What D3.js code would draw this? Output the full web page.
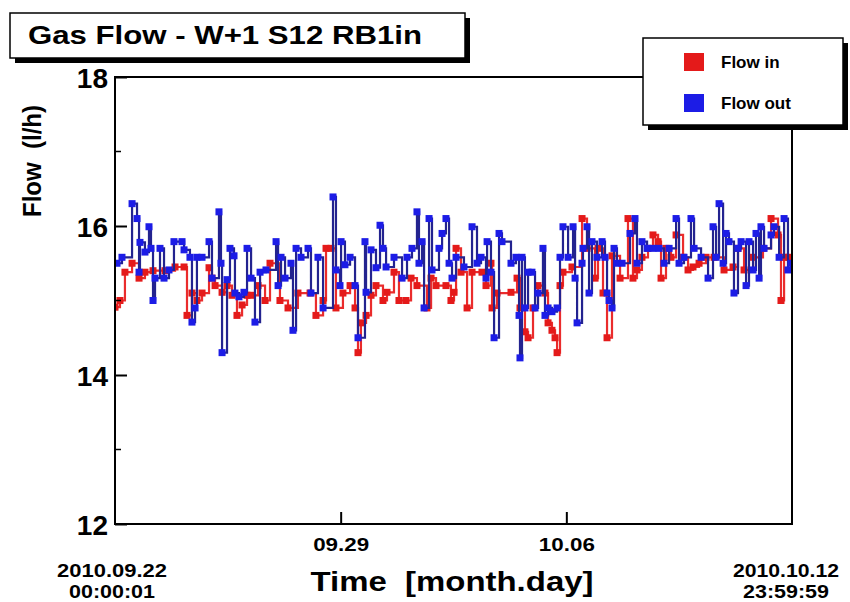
<!DOCTYPE html>
<html>
<head>
<meta charset="utf-8">
<script src="https://cdn.jsdelivr.net/npm/d3@7"></script>
<style>
  html, body { margin: 0; padding: 0; background: #ffffff; }
  svg { display: block; }
  text { font-family: "Liberation Sans", Arial, Helvetica, sans-serif; font-weight: bold; fill: #000; }
</style>
</head>
<body>
<svg id="chart" width="850" height="602"></svg>
<script>
// ---------------- DATA ----------------
const chartTitle = "Gas Flow - W+1 S12 RB1in";
const seriesNames = ["Flow in", "Flow out"];
const startTime = "2010-09-22T00:00:01";
const endTime = "2010-10-12T23:59:59";
const startLabel = ["2010.09.22", "00:00:01"];
const endLabel = ["2010.10.12", "23:59:59"];
const xTickDates = ["2010-09-29T00:00:00", "2010-10-06T00:00:00"];
const xTickLabels = ["09.29", "10.06"];
const yTicks = [12, 14, 16, 18];
const yMinorTicks = [13, 15, 17];
const yDomain = [12, 18];

// Flow in (red): hours after start, value (l/h)
const flowInHours = [0, 3.7, 7.4, 12.7, 17.9, 22.3, 28.3, 37.2, 44.7, 51.4, 53.6, 57.3, 61.0, 64.8, 70.0, 72.2, 74.5, 79.7, 83.4, 87.1, 90.8, 94.6, 98.3, 101.3, 106.5, 111.7, 115.4, 122.8, 128.8, 136.2, 145.2, 149.6, 154.9, 157.1, 160.8, 164.5, 169.7, 175.0, 178.7, 180.9, 183.1, 186.9, 190.6, 194.3, 199.5, 202.5, 207.7, 211.4, 216.6, 220.4, 224.8, 232.3, 235.3, 239.0, 246.4, 250.1, 252.4, 253.9, 257.6, 262.1, 265.8, 273.2, 276.2, 279.9, 280.7, 284.4, 294.8, 299.3, 301.5, 305.2, 307.5, 311.2, 314.9, 320.1, 322.4, 325.3, 327.6, 329.1, 331.3, 333.5, 340.2, 347.7, 351.4, 357.4, 359.6, 363.3, 366.3, 370.0, 376.0, 381.9, 385.6, 388.6, 392.3, 396.8, 400.5, 404.3, 406.5, 410.2, 413.9, 417.7, 422.9, 426.6, 430.3, 434.8, 440.0, 446.0, 453.4, 460.1, 463.8, 468.3, 475.0, 482.4, 488.4, 493.6, 495.8, 498.1, 501.8];
const flowInValues = [14.91, 15.0, 15.38, 15.5, 15.3, 15.38, 15.4, 15.4, 15.45, 15.45, 14.8, 15.1, 15.0, 15.1, 15.44, 15.3, 15.2, 15.11, 15.2, 15.07, 14.8, 14.94, 15.07, 15.07, 15.2, 15.0, 15.5, 15.0, 14.9, 15.1, 15.1, 14.8, 15.0, 15.7, 15.7, 14.9, 15.1, 15.2, 14.9, 14.3, 14.7, 14.8, 15.07, 15.2, 15.0, 15.11, 15.38, 15.0, 15.0, 15.3, 15.2, 14.9, 15.3, 15.2, 15.2, 15.0, 15.11, 15.7, 15.38, 14.9, 15.38, 15.38, 15.2, 15.5, 14.9, 15.1, 15.11, 15.3, 14.9, 14.58, 14.5, 14.9, 15.2, 15.1, 14.7, 14.6, 14.5, 14.3, 15.2, 15.38, 15.45, 16.1, 15.7, 15.3, 15.7, 15.1, 14.5, 15.6, 15.3, 16.1, 15.3, 15.41, 15.58, 15.7, 15.88, 15.79, 15.3, 15.7, 15.58, 15.88, 15.58, 15.41, 15.45, 15.5, 15.58, 15.58, 15.41, 15.45, 15.7, 15.41, 15.58, 15.7, 16.1, 15.88, 15.0, 15.58, 15.58];

// Flow out (blue): hours after start, value (l/h)
const flowOutHours = [1.5, 5.2, 12.7, 16.4, 17.9, 18.6, 22.3, 25.3, 26.8, 28.3, 29.8, 33.5, 36.5, 40.2, 43.9, 49.9, 51.4, 55.8, 57.3, 59.6, 61.0, 64.8, 70.0, 72.2, 77.4, 78.9, 79.7, 83.4, 85.6, 88.6, 89.3, 92.3, 96.0, 98.3, 101.3, 104.2, 108.0, 112.4, 119.9, 121.4, 123.6, 126.6, 131.0, 132.5, 134.8, 138.5, 143.7, 145.9, 151.1, 154.9, 162.3, 164.5, 167.5, 168.3, 171.2, 175.0, 178.7, 180.9, 186.1, 186.9, 190.6, 194.3, 197.3, 199.5, 201.8, 207.7, 213.7, 217.4, 221.1, 224.8, 226.3, 228.6, 230.1, 233.8, 236.0, 241.2, 243.5, 246.4, 248.7, 250.9, 253.9, 259.8, 265.8, 269.5, 272.5, 276.2, 277.0, 279.9, 282.2, 285.9, 288.1, 294.8, 298.5, 300.8, 301.5, 303.0, 305.2, 307.5, 310.4, 312.7, 314.9, 318.6, 320.1, 322.4, 325.3, 329.1, 331.3, 333.5, 337.3, 341.0, 342.5, 344.0, 347.7, 348.4, 351.4, 352.9, 355.1, 358.8, 362.6, 364.8, 366.3, 367.8, 370.0, 371.5, 373.7, 377.5, 383.4, 387.1, 388.6, 392.3, 396.1, 400.5, 405.0, 408.7, 412.5, 417.7, 419.9, 423.6, 428.8, 431.1, 436.3, 441.5, 445.2, 447.5, 449.7, 452.7, 454.9, 457.1, 460.8, 463.8, 466.1, 469.8, 472.0, 475.0, 477.2, 479.5, 480.9, 483.2, 488.4, 490.6, 494.4, 498.1, 501.0, 503.3];
const flowOutValues = [15.5, 15.58, 16.3, 16.1, 15.38, 15.78, 15.65, 15.99, 15.7, 15.0, 15.3, 15.7, 15.3, 15.41, 15.79, 15.79, 15.68, 15.58, 14.71, 14.9, 15.58, 15.58, 15.79, 15.3, 16.19, 15.5, 14.3, 15.28, 15.7, 15.6, 15.1, 15.05, 15.11, 15.7, 15.3, 14.71, 15.38, 15.41, 15.79, 15.2, 15.58, 15.3, 15.5, 14.6, 15.7, 15.58, 15.7, 15.1, 15.58, 14.9, 16.39, 15.41, 15.2, 15.79, 15.48, 15.58, 15.2, 14.5, 15.79, 15.11, 15.68, 15.44, 16.01, 15.7, 15.45, 15.58, 15.3, 15.58, 15.7, 16.19, 15.5, 15.79, 14.9, 16.1, 15.41, 15.7, 15.9, 16.1, 15.5, 15.3, 15.58, 15.45, 15.99, 15.5, 15.58, 15.3, 15.79, 15.38, 14.5, 15.9, 15.79, 15.5, 15.58, 14.8, 14.23, 15.58, 14.9, 15.38, 15.38, 14.9, 15.1, 15.7, 14.8, 14.9, 14.85, 14.9, 15.58, 15.99, 15.58, 15.99, 15.3, 14.7, 15.5, 15.7, 15.99, 15.1, 15.79, 15.58, 15.79, 15.58, 15.1, 15.0, 14.9, 15.7, 15.5, 15.5, 15.9, 16.1, 15.5, 15.79, 15.7, 15.7, 15.7, 15.5, 15.7, 16.1, 15.5, 15.58, 16.1, 15.7, 15.58, 15.3, 15.99, 15.58, 16.3, 15.5, 15.9, 15.79, 15.1, 15.7, 15.79, 15.2, 15.79, 15.41, 15.9, 15.3, 15.99, 15.7, 15.88, 15.99, 15.58, 16.1, 15.41, 15.5];

// ---------------- DRAW ----------------
const svg = d3.select("#chart");
const plot = { left: 115, right: 792, top: 77, bottom: 524 };

const t0 = new Date(startTime);
const t1 = new Date(endTime);
const hourToDate = h => new Date(t0.getTime() + h * 3600 * 1000);

const x = d3.scaleTime().domain([t0, t1]).range([plot.left, plot.right]);
const y = d3.scaleLinear().domain(yDomain).range([plot.bottom, plot.top]);

const inData = flowInHours.map((h, i) => ({ t: hourToDate(h), v: flowInValues[i] }));
const outData = flowOutHours.map((h, i) => ({ t: hourToDate(h), v: flowOutValues[i] }));

svg.append("defs").append("clipPath").attr("id", "clip")
  .append("rect").attr("x", plot.left).attr("y", plot.top)
  .attr("width", plot.right - plot.left).attr("height", plot.bottom - plot.top);

const line = d3.line().x(d => x(d.t)).y(d => y(d.v)).curve(d3.curveStepAfter);

const series = [
  { data: inData, line: "#ea2c2c", marker: "#e41a1a" },
  { data: outData, line: "#23238f", marker: "#1c1ce6" }
];

const dataG = svg.append("g").attr("clip-path", "url(#clip)");
series.forEach(s => {
  dataG.append("path").datum(s.data)
    .attr("d", line).attr("fill", "none")
    .attr("stroke", s.line).attr("stroke-width", 2.2);
  dataG.selectAll(null).data(s.data).enter().append("rect")
    .attr("x", d => x(d.t) - 3.5).attr("y", d => y(d.v) - 3.5)
    .attr("width", 7).attr("height", 7)
    .attr("fill", s.marker);
});

// Frame
svg.append("rect").attr("x", plot.left).attr("y", plot.top)
  .attr("width", plot.right - plot.left).attr("height", plot.bottom - plot.top)
  .attr("fill", "none").attr("stroke", "#000").attr("stroke-width", 2);

// Y axis ticks (inward) and labels
const yAxis = d3.axisLeft(y).tickValues(yTicks).tickSize(-12).tickFormat(d3.format("d"));
const yG = svg.append("g").attr("transform", `translate(${plot.left},0)`).call(yAxis);
yG.select(".domain").remove();
yG.selectAll(".tick line").attr("stroke", "#000").attr("stroke-width", 2);
yG.selectAll(".tick text").attr("x", -7).attr("dy", "0.36em")
  .style("font-size", "28px").style("font-weight", "bold")
  .style("font-family", "'Liberation Sans', Arial, sans-serif");
yG.selectAll(null).data(yMinorTicks).enter().append("line")
  .attr("x1", 0).attr("x2", 6).attr("y1", d => y(d)).attr("y2", d => y(d))
  .attr("stroke", "#000").attr("stroke-width", 1.5);

// X axis ticks (inward) and labels
const xTicks = xTickDates.map(s => new Date(s));
const xAxis = d3.axisBottom(x).tickValues(xTicks).tickSize(-12)
  .tickFormat((d, i) => xTickLabels[i]);
const xG = svg.append("g").attr("transform", `translate(0,${plot.bottom})`).call(xAxis);
xG.select(".domain").remove();
xG.selectAll(".tick line").attr("stroke", "#000").attr("stroke-width", 2);
xG.selectAll(".tick text").attr("y", 14).attr("dy", "0.71em")
  .attr("textLength", 56).attr("lengthAdjust", "spacingAndGlyphs")
  .style("font-size", "18px").style("font-weight", "bold")
  .style("font-family", "'Liberation Sans', Arial, sans-serif");

// Start / end date labels
function twoLine(lines, cx, w1) {
  svg.append("text").attr("x", cx).attr("y", 577).attr("text-anchor", "middle")
    .style("font-size", "18px").attr("textLength", w1).attr("lengthAdjust", "spacingAndGlyphs")
    .text(lines[0]);
  svg.append("text").attr("x", cx).attr("y", 598).attr("text-anchor", "middle")
    .style("font-size", "18px").attr("textLength", 86).attr("lengthAdjust", "spacingAndGlyphs")
    .text(lines[1]);
}
twoLine(startLabel, x(t0) - 3, 110);
twoLine(endLabel, x(t1) - 6, 106);

// Axis titles
svg.append("text").attr("x", 452).attr("y", 591).attr("text-anchor", "middle")
  .style("font-size", "27px").style("white-space", "pre")
  .attr("textLength", 283).attr("lengthAdjust", "spacingAndGlyphs")
  .text("Time  [month.day]");
svg.append("text").attr("transform", "translate(41,161) rotate(-90)")
  .attr("text-anchor", "middle").style("font-size", "25px").style("white-space", "pre")
  .attr("textLength", 112).attr("lengthAdjust", "spacingAndGlyphs")
  .text("Flow  (l/h)");

// Title box with shadow
const tb = { x: 10, y: 13, w: 455, h: 45 };
svg.append("rect").attr("x", tb.x + 5).attr("y", tb.y + 5).attr("width", tb.w).attr("height", tb.h).attr("fill", "#000");
svg.append("rect").attr("x", tb.x).attr("y", tb.y).attr("width", tb.w).attr("height", tb.h)
  .attr("fill", "#fff").attr("stroke", "#000").attr("stroke-width", 1.5);
svg.append("text").attr("x", 28).attr("y", 44)
  .style("font-size", "25px").attr("textLength", 394).attr("lengthAdjust", "spacingAndGlyphs")
  .text(chartTitle);

// Legend box with shadow
const lb = { x: 643, y: 38, w: 200, h: 87 };
svg.append("rect").attr("x", lb.x + 5).attr("y", lb.y + 5).attr("width", lb.w).attr("height", lb.h).attr("fill", "#000");
svg.append("rect").attr("x", lb.x).attr("y", lb.y).attr("width", lb.w).attr("height", lb.h)
  .attr("fill", "#fff").attr("stroke", "#000").attr("stroke-width", 1.5);
const legendColors = [series[0].marker, series[1].marker];
const legendY = [62, 103];
seriesNames.forEach((name, i) => {
  svg.append("rect").attr("x", 684).attr("y", legendY[i] - 9).attr("width", 20).attr("height", 18)
    .attr("fill", legendColors[i]);
  svg.append("text").attr("x", 721).attr("y", legendY[i]).attr("dy", "0.36em")
    .style("font-size", "17px").text(name);
});
</script>
</body>
</html>
